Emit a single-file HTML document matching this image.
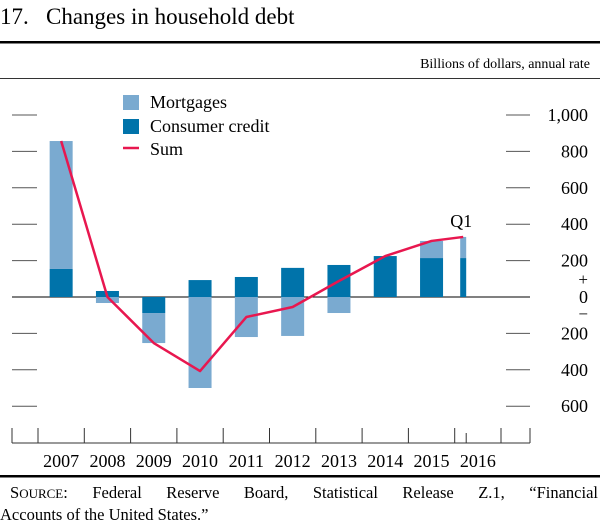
<!DOCTYPE html>
<html><head><meta charset="utf-8"><style>
body{margin:0;background:#fff;font-family:"Liberation Serif",serif;position:relative;width:600px;height:524px;overflow:hidden;}
#src1{position:absolute;left:10px;top:483px;width:588px;font-size:16.5px;text-align:justify;text-align-last:justify;white-space:nowrap;line-height:20px;}
#src1 span.j{display:block;}
</style></head><body>
<svg width="600" height="524" viewBox="0 0 600 524" xmlns="http://www.w3.org/2000/svg" font-family="Liberation Serif, serif" style="position:absolute;left:0;top:0">
<text x="0" y="24" font-size="23" fill="#000">17.<tspan x="46">Changes in household debt</tspan></text>
<rect x="0" y="41" width="600" height="2.5" fill="#000"/>
<text x="590" y="68" font-size="14" text-anchor="end">Billions of dollars, annual rate</text>
<rect x="0" y="78" width="600" height="1" fill="#333"/>
<g id="plot"></g>
<g>
<rect x="123" y="95" width="16" height="15" fill="#7aaad0"/>
<text x="150" y="108" font-size="18">Mortgages</text>
<rect x="123" y="119" width="16" height="15" fill="#0073aa"/>
<text x="150" y="132" font-size="18">Consumer credit</text>
<line x1="123" y1="148" x2="139" y2="148" stroke="#e8174f" stroke-width="2.5"/>
<text x="150" y="155" font-size="18">Sum</text>
</g>
<rect x="0" y="475" width="600" height="2.5" fill="#000"/>
<text x="0" y="520" font-size="16.5">Accounts of the United States.”</text>
</svg>
<div id="src1"><span class="j">S<span style="font-size:13px">OURCE</span>: Federal Reserve Board, Statistical Release Z.1, “Financial</span></div>
<script>
const years = ["2007","2008","2009","2010","2011","2012","2013","2014","2015","2016"];
const mortgages = [703, -33, -165, -500, -220, -214, -88, 0, 94, 116];
const consumerCredit = [154, 33, -88, 93, 110, 160, 176, 225, 214, 214];
const sumValues = [857, 0, -253, -407, -110, -55, 88, 225, 308, 330];
const yTicks = [1000, 800, 600, 400, 200, 0, -200, -400, -600];
const yTickLabels = ["1,000","800","600","400","200","0","200","400","600"];

const NS="http://www.w3.org/2000/svg";
const plot=document.getElementById('plot');
const y0=297, pxPer=0.182;
function yScale(v){return y0 - v*pxPer;}
const xLeft=38, step=46.3;
function xCenter(i){ return i<years.length-1 ? xLeft+step*(i+0.5) : xLeft+step*9+8.5; }
function barW(i){ return i<years.length-1 ? 23 : 6; }
function mk(tag,attrs){const e=document.createElementNS(NS,tag);for(const k in attrs)e.setAttribute(k,attrs[k]);plot.appendChild(e);return e;}

yTicks.forEach((v,i)=>{
  const y=yScale(v);
  if(v!==0){
    const l=mk('line',{x1:12,x2:37,y1:y,y2:y,stroke:'#555','stroke-width':1});
    
    
    const r=mk('line',{x1:506,x2:530,y1:y,y2:y,stroke:'#555','stroke-width':1});
    
    
  }
  const t=mk('text',{x:588,y:y+6,'font-size':18,'text-anchor':'end'});
  t.textContent=yTickLabels[i];
  
  
});
const plus=mk('text',{x:588,y:yScale(100)+6,'font-size':17,'text-anchor':'end'});plus.textContent='+';


const minus=mk('text',{x:588,y:yScale(-90)+6,'font-size':17,'text-anchor':'end'});minus.textContent='−';



const zl=mk('line',{x1:12,x2:530,y1:y0,y2:y0,stroke:'#000','stroke-width':1});



years.forEach((yr,i)=>{
  const cx=xCenter(i), w=barW(i);
  const c=consumerCredit[i], m=mortgages[i];
  const cr=mk('rect',{x:cx-w/2,y:Math.min(yScale(c),y0),width:w,height:Math.abs(c)*pxPer,fill:'#0073aa'});
  
  
  let base = (m>=0)===(c>=0) ? c : 0;
  const a=base, b=base+m;
  const mr=mk('rect',{x:cx-w/2,y:yScale(Math.max(a,b)),width:w,height:Math.abs(m)*pxPer,fill:'#7aaad0'});
  
  
});

const pts=sumValues.map((v,i)=>xCenter(i)+','+yScale(v)).join(' ');
const pl=mk('polyline',{points:pts,fill:'none',stroke:'#e8174f','stroke-width':2.5,'stroke-linejoin':'round'});


const q=mk('text',{x:xCenter(9)-2,y:yScale(sumValues[9])-10,'font-size':18,'text-anchor':'middle'});q.textContent='Q1';



const xa=mk('line',{x1:12,x2:530,y1:443,y2:443,stroke:'#333','stroke-width':1});


[12,530].forEach((x,k)=>{const e=mk('line',{x1:x,x2:x,y1:428,y2:443,stroke:'#333'});

});
for(let i=0;i<=years.length;i++){
  const x=xLeft+step*i;
  const e=mk('line',{x1:x,x2:x,y1:428,y2:443,stroke:'#333'});
  
  
}
const qt=mk('line',{x1:xLeft+step*9+11.5,x2:xLeft+step*9+11.5,y1:433,y2:443,stroke:'#333'});


years.forEach((yr,i)=>{
  const t=mk('text',{x:xLeft+step*(i+0.5),y:467,'font-size':18,'text-anchor':'middle'});
  t.textContent=yr;
  
  
});
</script>
</body></html>
